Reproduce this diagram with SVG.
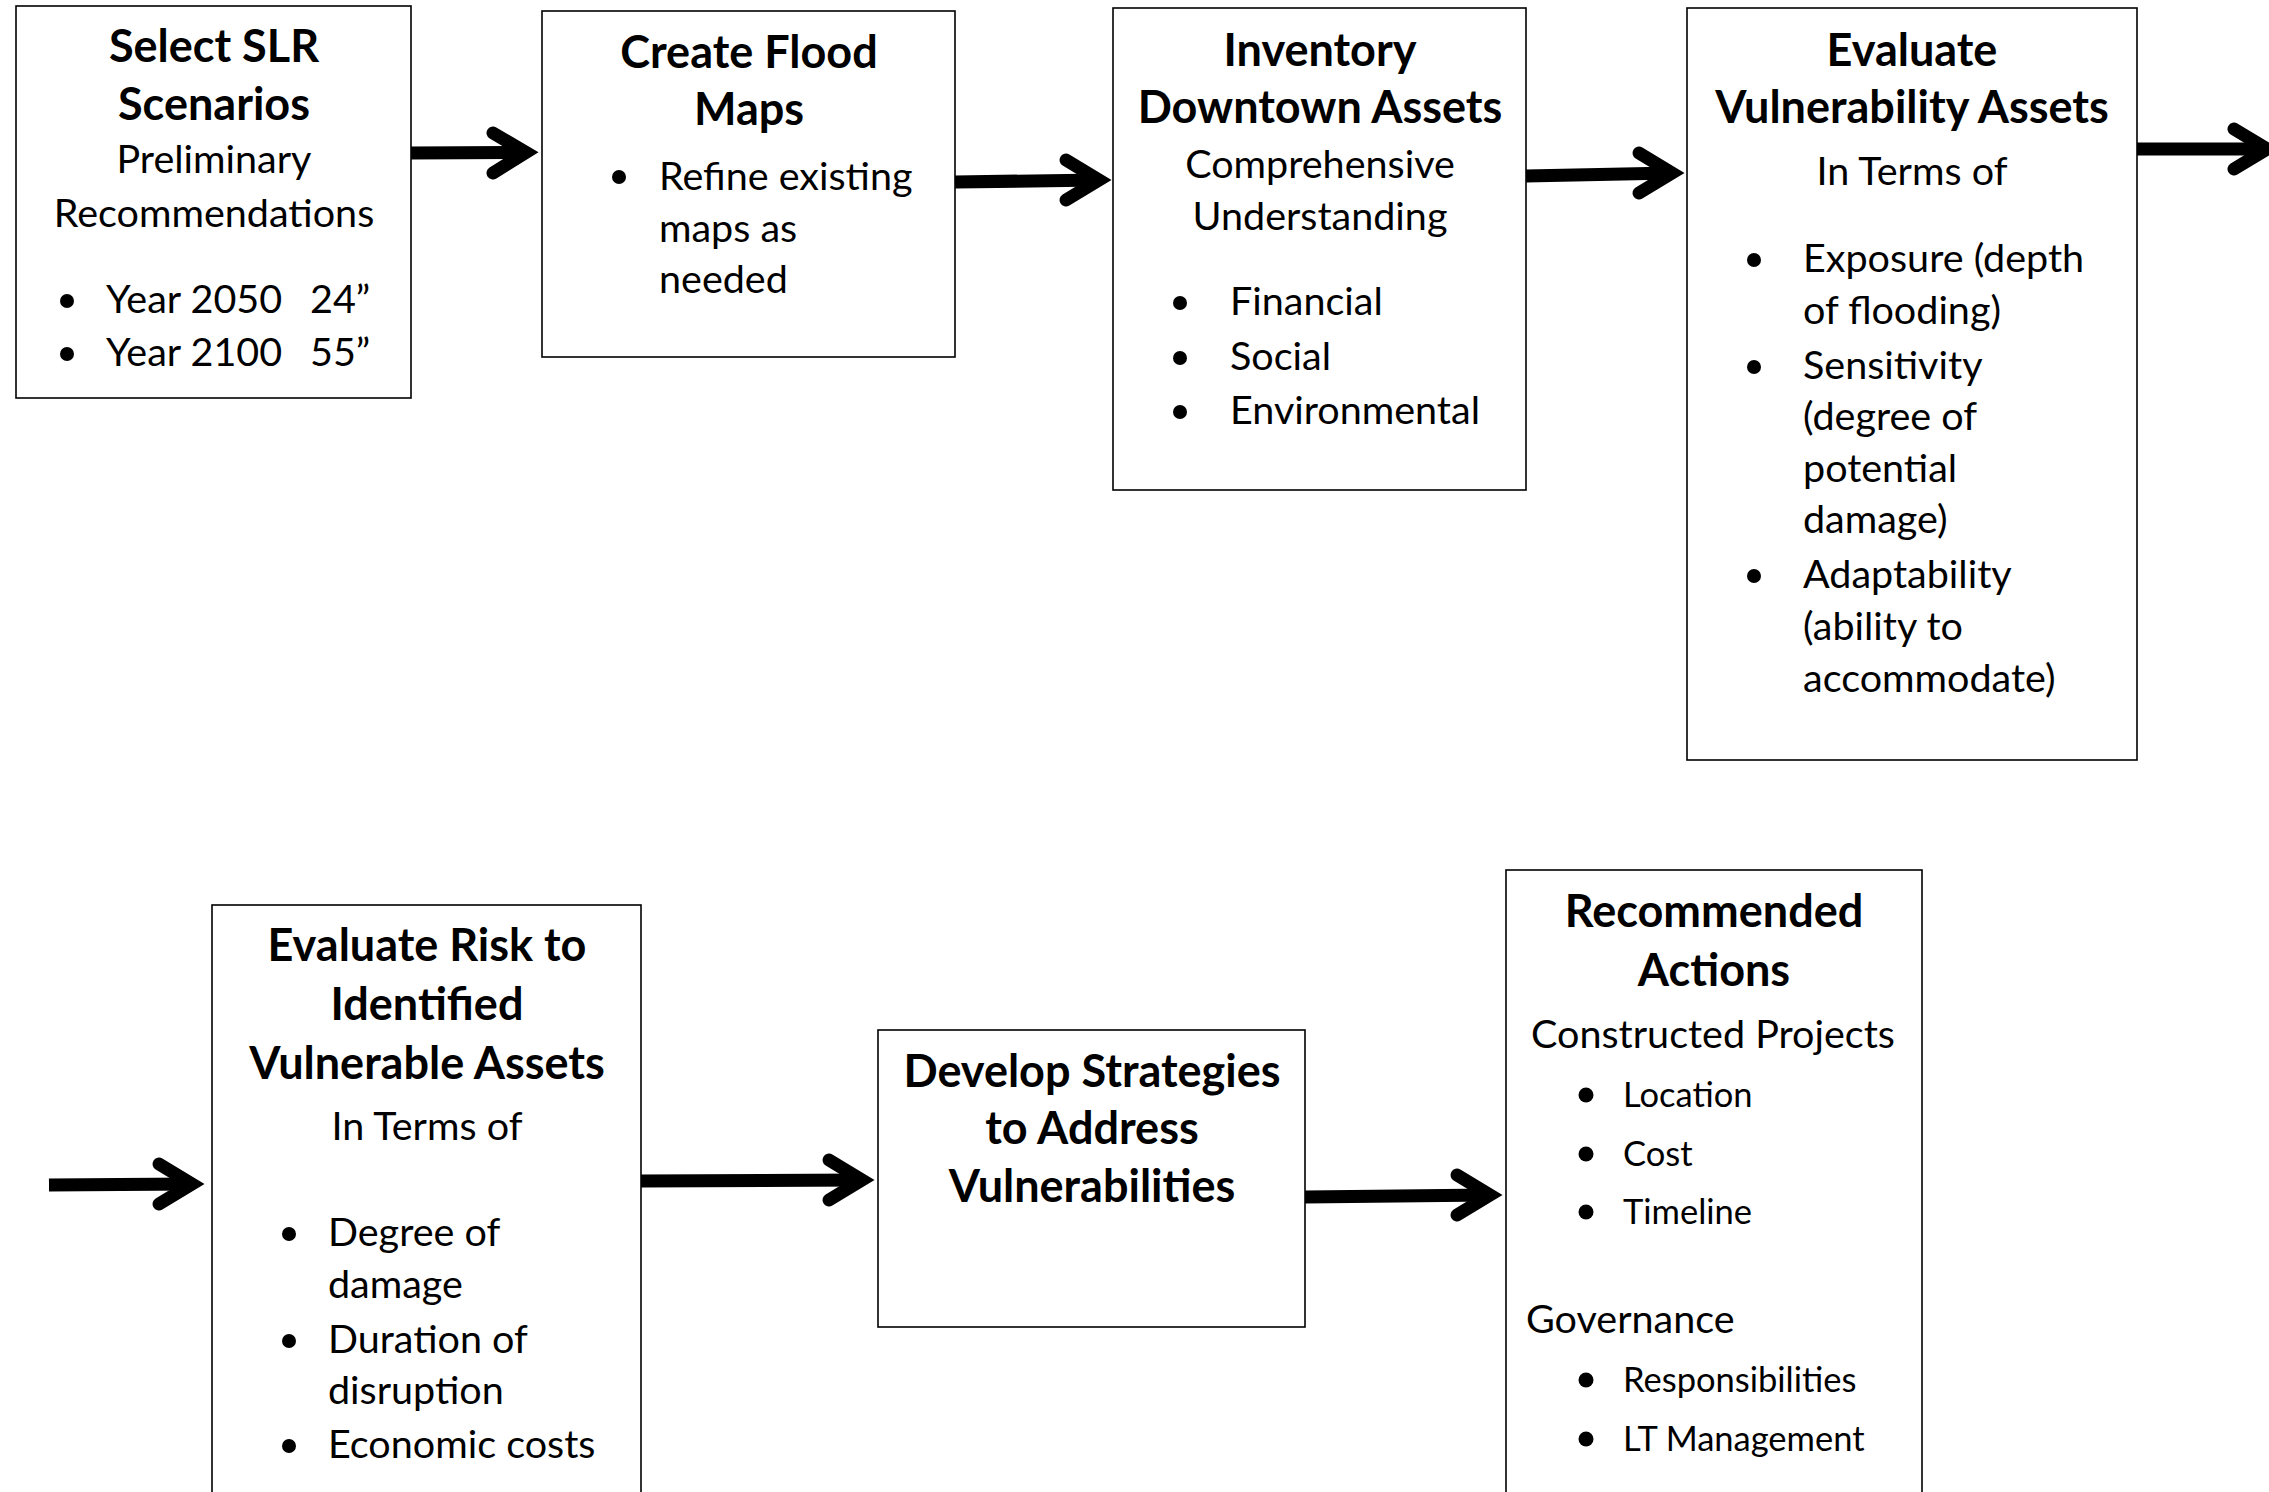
<svg xmlns="http://www.w3.org/2000/svg" width="2269" height="1492" viewBox="0 0 2269 1492">
<style>
.box{fill:#fff;stroke:#000;stroke-width:1.6}
text{font-family:Lato,"Open Sans","Liberation Sans",sans-serif;fill:#000}
.h{font-weight:bold;font-size:45px;text-anchor:middle}
.b{font-size:39.5px}
.m{text-anchor:middle}
.s{font-size:34.5px}
.dot{fill:#000}
.conn line{stroke:#000;stroke-width:13}
.conn polyline{fill:none;stroke:#000;stroke-width:13;stroke-linecap:round;stroke-linejoin:miter}
</style>
<rect width="2269" height="1492" fill="#fff"/>

<g id="conn" class="conn">
  <line x1="411" y1="153" x2="526" y2="152.5"/>
  <polyline points="493,133 526,152.5 493,173"/>
  <line x1="955" y1="182" x2="1099" y2="180"/>
  <polyline points="1066,160 1099,180 1066,200"/>
  <line x1="1526" y1="176" x2="1672" y2="173"/>
  <polyline points="1639,153 1672,173 1639,193"/>
  <line x1="2137" y1="149" x2="2267" y2="149"/>
  <polyline points="2234,129 2267,149 2234,169"/>
  <line x1="49" y1="1185" x2="192" y2="1184"/>
  <polyline points="159,1164 192,1184 159,1204"/>
  <line x1="641" y1="1181" x2="862" y2="1180"/>
  <polyline points="829,1160 862,1180 829,1200"/>
  <line x1="1305" y1="1197" x2="1490" y2="1195"/>
  <polyline points="1457,1175 1490,1195 1457,1215"/>
</g>

<g id="n1">
  <rect class="box" x="16" y="6" width="395" height="392"/>
  <text class="h" x="214" y="62">Select SLR</text>
  <text class="h" x="214" y="120">Scenarios</text>
  <text class="b m" x="214" y="173">Preliminary</text>
  <text class="b m" x="214" y="227">Recommendations</text>
  <circle class="dot" cx="67" cy="301" r="7"/>
  <text class="b" x="106" y="313">Year 2050</text>
  <text class="b" x="310" y="313">24”</text>
  <circle class="dot" cx="67" cy="354" r="7"/>
  <text class="b" x="106" y="366">Year 2100</text>
  <text class="b" x="310" y="366">55”</text>
</g>

<g id="n2">
  <rect class="box" x="542" y="11" width="413" height="346"/>
  <text class="h" x="749" y="68">Create Flood</text>
  <text class="h" x="749" y="125">Maps</text>
  <circle class="dot" cx="619" cy="177" r="7"/>
  <text class="b" x="659" y="190">Refine existing</text>
  <text class="b" x="659" y="242">maps as</text>
  <text class="b" x="659" y="293">needed</text>
</g>

<g id="n3">
  <rect class="box" x="1113" y="8" width="413" height="482"/>
  <text class="h" x="1320" y="66">Inventory</text>
  <text class="h" x="1320" y="123">Downtown Assets</text>
  <text class="b m" x="1320" y="178">Comprehensive</text>
  <text class="b m" x="1320" y="230">Understanding</text>
  <circle class="dot" cx="1180" cy="303" r="7"/>
  <text class="b" x="1230" y="315">Financial</text>
  <circle class="dot" cx="1180" cy="358" r="7"/>
  <text class="b" x="1230" y="370">Social</text>
  <circle class="dot" cx="1180" cy="412" r="7"/>
  <text class="b" x="1230" y="424">Environmental</text>
</g>

<g id="n4">
  <rect class="box" x="1687" y="8" width="450" height="752"/>
  <text class="h" x="1912" y="66">Evaluate</text>
  <text class="h" x="1912" y="123">Vulnerability Assets</text>
  <text class="b m" x="1912" y="185">In Terms of</text>
  <circle class="dot" cx="1754" cy="260" r="7"/>
  <text class="b" x="1803" y="272">Exposure (depth</text>
  <text class="b" x="1803" y="324">of flooding)</text>
  <circle class="dot" cx="1754" cy="367" r="7"/>
  <text class="b" x="1803" y="379">Sensitivity</text>
  <text class="b" x="1803" y="430">(degree of</text>
  <text class="b" x="1803" y="482">potential</text>
  <text class="b" x="1803" y="533">damage)</text>
  <circle class="dot" cx="1754" cy="576" r="7"/>
  <text class="b" x="1803" y="588">Adaptability</text>
  <text class="b" x="1803" y="640">(ability to</text>
  <text class="b" x="1803" y="692">accommodate)</text>
</g>

<g id="n5">
  <rect class="box" x="212" y="905" width="429" height="600"/>
  <text class="h" x="427" y="961">Evaluate Risk to</text>
  <text class="h" x="427" y="1020">Identified</text>
  <text class="h" x="427" y="1079">Vulnerable Assets</text>
  <text class="b m" x="427" y="1140">In Terms of</text>
  <circle class="dot" cx="289" cy="1234" r="7"/>
  <text class="b" x="328" y="1246">Degree of</text>
  <text class="b" x="328" y="1298">damage</text>
  <circle class="dot" cx="289" cy="1341" r="7"/>
  <text class="b" x="328" y="1353">Duration of</text>
  <text class="b" x="328" y="1404">disruption</text>
  <circle class="dot" cx="289" cy="1446" r="7"/>
  <text class="b" x="328" y="1458">Economic costs</text>
</g>

<g id="n6">
  <rect class="box" x="878" y="1030" width="427" height="297"/>
  <text class="h" x="1092" y="1087">Develop Strategies</text>
  <text class="h" x="1092" y="1144">to Address</text>
  <text class="h" x="1092" y="1202">Vulnerabilities</text>
</g>

<g id="n7">
  <rect class="box" x="1506" y="870" width="416" height="640"/>
  <text class="h" x="1714" y="927">Recommended</text>
  <text class="h" x="1714" y="986">Actions</text>
  <text class="b m" x="1713" y="1048">Constructed Projects</text>
  <circle class="dot" cx="1586" cy="1095" r="7.5"/>
  <text class="b s" x="1623" y="1107">Location</text>
  <circle class="dot" cx="1586" cy="1154" r="7.5"/>
  <text class="b s" x="1623" y="1166">Cost</text>
  <circle class="dot" cx="1586" cy="1212" r="7.5"/>
  <text class="b s" x="1623" y="1224">Timeline</text>
  <text class="b" x="1526" y="1333">Governance</text>
  <circle class="dot" cx="1586" cy="1380" r="7.5"/>
  <text class="b s" x="1623" y="1392">Responsibilities</text>
  <circle class="dot" cx="1586" cy="1439" r="7.5"/>
  <text class="b s" x="1623" y="1451">LT Management</text>
</g>
</svg>
